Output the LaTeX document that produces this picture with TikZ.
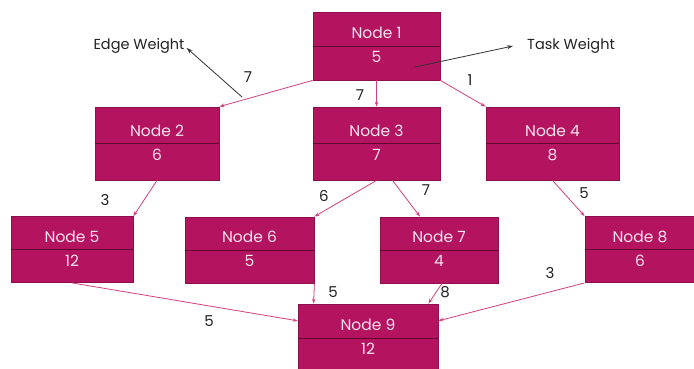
\documentclass[tikz,border=0pt]{standalone}
\usepackage{fontspec}
\setmainfont{Poppins}
\usetikzlibrary{arrows.meta,calc}
\definecolor{boxfill}{HTML}{B3135F}
\definecolor{boxline}{HTML}{8E0F4B}
\definecolor{divline}{HTML}{5E0830}
\definecolor{edgecol}{HTML}{D2407F}
\definecolor{boxtext}{HTML}{F7E4EE}
\definecolor{labtext}{HTML}{222222}
\tikzset{
  taskbox/.style={draw=boxline, fill=boxfill, line width=0.8pt, inner sep=0pt},
  divider/.style={draw=divline, line width=0.9pt},
  boxlabel/.style={text=boxtext, font=\fontsize{15.5}{18}\selectfont, inner sep=0pt},
  edge/.style={draw=edgecol, line width=0.8pt, -{Stealth[length=5pt,width=3.5pt]}},
  weight/.style={text=labtext, font=\fontsize{15}{18}\selectfont, inner sep=0pt},
  note/.style={draw=black!80, line width=0.8pt, -{Stealth[length=6pt,width=4pt]}},
  notetext/.style={text=labtext, font=\fontsize{14.5}{17}\selectfont, inner sep=0pt}
}
\newcommand{\tasknode}[7]{%
  \node[taskbox, minimum width=#4pt, minimum height=#5pt] (#1) at (#2,#3) {};
  \draw[divider] (#1.west) -- (#1.east);
  \node[boxlabel] (#1t) at ($(#1.center)+(0,-13)$) {#6};
  \node[boxlabel] (#1w) at ($(#1.center)+(0,11)$) {#7};
}
\begin{document}
\begin{tikzpicture}[x=1pt,y=-1pt]
\clip (0,0) rectangle (694,368);
\fill[white] (0,0) rectangle (694,368);
\tasknode{n1}{376.5}{46}{127}{68}{Node 1}{5}
\tasknode{n2}{157}{143.5}{124}{73}{Node 2}{6}
\tasknode{n3}{376.5}{143.5}{127}{73}{Node 3}{7}
\tasknode{n4}{552.5}{143.5}{133}{73}{Node 4}{8}
\tasknode{n5}{72}{249.5}{122}{66}{Node 5}{12}
\tasknode{n6}{249.5}{250}{129}{66}{Node 6}{5}
\tasknode{n7}{439}{250}{118}{66}{Node 7}{4}
\tasknode{n8}{640}{249.5}{110}{66}{Node 8}{6}
\tasknode{n9}{368}{338}{140}{68}{Node 9}{12}
% edges
\draw[edge] (n1.south west) -- (n2.north east);
\draw[edge] (n1.south) -- (n3.north);
\draw[edge] (n1.south east) -- (n4.north west);
\draw[edge] (n2.south) -- (n5.north east);
\draw[edge] (n3.south) -- (n6.north east);
\draw[edge] ($(n3.south)+(16,0)$) -- ($(n7.north west)!0.34!(n7.north east)$);
\draw[edge] (n4.south) -- (n8.north west);
\draw[edge] (n5.south) -- ($(n9.north west)!0.25!(n9.south west)$);
\draw[edge] (n6.south east) -- ($(n9.north west)+(16,0)$);
\draw[edge] ($(n7.south)+(3,0)$) -- ($(n9.north east)+(-10,0)$);
\draw[edge] (n8.south west) -- ($(n9.north east)!0.25!(n9.south east)$);
% edge weights
\node[weight] (w12) at (248,77) {7};
\node[weight] (w13) at (360,95) {7};
\node[weight] (w14) at (470,80) {1};
\node[weight] (w25) at (105,200) {3};
\node[weight] (w36) at (324,196) {6};
\node[weight] (w37) at (426,190) {7};
\node[weight] (w48) at (584,193) {5};
\node[weight] (w59) at (209,321) {5};
\node[weight] (w69) at (333,292) {5};
\node[weight] (w79) at (445,292) {8};
\node[weight] (w89) at (550,273) {3};
% annotations
\node[notetext] (ew) at (139,46) {Edge Weight};
\node[notetext] (tw) at (571,46) {Task Weight};
\coordinate (ewfrom) at (242,97);
\coordinate (twfrom) at (415,67);
\draw[note] (ewfrom) -- ($(ew.east)+(2,2)$);
\draw[note] (twfrom) -- ($(tw.west)+(-14,0)$);
\end{tikzpicture}
\end{document}
